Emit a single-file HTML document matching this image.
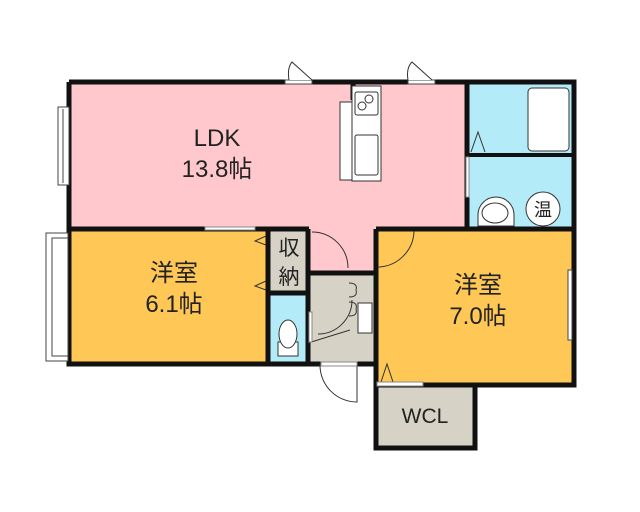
<!DOCTYPE html>
<html><head><meta charset="utf-8"><style>
html,body{margin:0;padding:0;background:#fff;width:640px;height:512px;overflow:hidden}
svg{display:block}
text{font-family:"Liberation Sans","Noto Sans CJK JP",sans-serif;fill:#222}
</style></head><body>
<svg width="640" height="512" viewBox="0 0 640 512">
<rect x="69" y="83" width="398" height="146" fill="#ffc8cc"/>
<rect x="309" y="228" width="66" height="45" fill="#ffc8cc"/>
<rect x="467" y="83" width="107" height="145" fill="#b3ecf8"/>
<rect x="69" y="228" width="199" height="136" fill="#fec756"/>
<rect x="376" y="228" width="198" height="157" fill="#fec756"/>
<rect x="268" y="228" width="40" height="65" fill="#d6d3c6"/>
<rect x="268" y="293" width="40" height="71" fill="#b3ecf8"/>
<rect x="308" y="273" width="67" height="91" fill="#d6d3c6"/>
<rect x="376" y="385" width="99" height="63" fill="#d6d3c6"/>
<g stroke="#111" stroke-width="5" fill="none">
<path d="M69 82 H574 V385 H376 M69 82 V364 H376"/>
<path d="M467 82 V229 H574"/>
<path d="M69 229 H309 M308 229 V364 M268 229 V364 M268 293 H308"/>
<path d="M376 229 H467 M376 229 V448 H475 V385"/>
<path d="M308 273 H376"/>
<path d="M353 84 V100"/>
<path d="M467 155 H574" stroke-width="4"/>
</g>
<g fill="#fff" stroke="#444" stroke-width="1">
<rect x="58" y="107" width="11" height="78"/><line x1="63" y1="109" x2="63" y2="183"/>
<rect x="46" y="233" width="22" height="128"/><rect x="52" y="238" width="16" height="118"/>
<rect x="568" y="270" width="4" height="70"/>
<rect x="408" y="80" width="27" height="4"/><rect x="285" y="80" width="27" height="4"/>
</g>
<g fill="#fff" stroke="#333" stroke-width="1">
<path d="M289 80 Q287 68 292 62 L312 80"/>
<path d="M408 80 Q406 68 412 62 L432 80"/>
</g>
<rect x="340" y="102" width="12" height="78" fill="#fff" stroke="#333"/>
<rect x="352" y="86" width="29" height="95" fill="#fff" stroke="#333"/>
<rect x="355" y="92" width="23" height="23" fill="#fff" stroke="#333" rx="2"/>
<circle cx="362" cy="106" r="4" fill="none" stroke="#333"/>
<circle cx="369" cy="99" r="4" fill="none" stroke="#333"/>
<rect x="355" y="135" width="23" height="40" fill="#fff" stroke="#333" rx="2"/>
<rect x="528" y="88" width="41" height="63" rx="4" fill="#fff" stroke="#333"/>
<path d="M471 152 L478 132 L485 152" fill="none" stroke="#333"/>
<rect x="466" y="157" width="3" height="40" fill="#fff" stroke="#888"/>
<path d="M478 226 V215 A17 17 0 0 1 514 215 V226 Z" fill="#fff" stroke="#333"/>
<ellipse cx="495" cy="213" rx="13" ry="10" fill="#fff" stroke="#333"/>
<circle cx="543" cy="209" r="17" fill="#fff" stroke="#333"/>
<text x="543" y="216" font-size="18" text-anchor="middle">温</text>
<path d="M278 356 V342 H298 V356 Z" fill="#fff" stroke="#333"/>
<ellipse cx="288" cy="334" rx="9" ry="14" fill="#fff" stroke="#333"/>
<g fill="none" stroke="#333" stroke-width="1">
<path d="M312 232 A36 36 0 0 1 348 268"/>
<path d="M378 267 A37 37 0 0 0 414 231"/>
<path d="M318 334 A34 34 0 0 0 352 300"/>
<path d="M308 343 L350 330"/>
<path d="M320 364 A37 37 0 0 0 357 402 V364"/>
<path d="M349 283 Q358 283 356 290 M349 297 Q358 297 356 290"/>
<path d="M349 302 Q358 302 356 309 M349 316 Q358 316 356 309"/>
<path d="M266 236 L255 241 L266 245 M266 281 L255 286 L266 290"/>
<path d="M381 382 L387 364 L393 382"/>
</g>
<rect x="358" y="303" width="14" height="30" fill="#fff" stroke="#333"/>
<rect x="309" y="312" width="3" height="30" fill="#fff" stroke="#888"/>
<rect x="321" y="362" width="36" height="4" fill="#fff" stroke="#888"/>
<rect x="377" y="382" width="46" height="4" fill="#fff" stroke="#888"/>
<rect x="205" y="227" width="50" height="3" fill="#fff" stroke="#888"/>
<text x="217" y="146" font-size="24" text-anchor="middle">LDK</text>
<text x="217" y="177" font-size="24" text-anchor="middle">13.8帖</text>
<text x="174" y="281" font-size="24" text-anchor="middle">洋室</text>
<text x="174" y="312" font-size="24" text-anchor="middle">6.1帖</text>
<text x="478" y="293" font-size="24" text-anchor="middle">洋室</text>
<text x="478" y="324" font-size="24" text-anchor="middle">7.0帖</text>
<text x="289" y="255" font-size="21" text-anchor="middle">収</text>
<text x="289" y="284" font-size="21" text-anchor="middle">納</text>
<text x="425" y="423" font-size="21" text-anchor="middle">WCL</text>
</svg>
</body></html>
